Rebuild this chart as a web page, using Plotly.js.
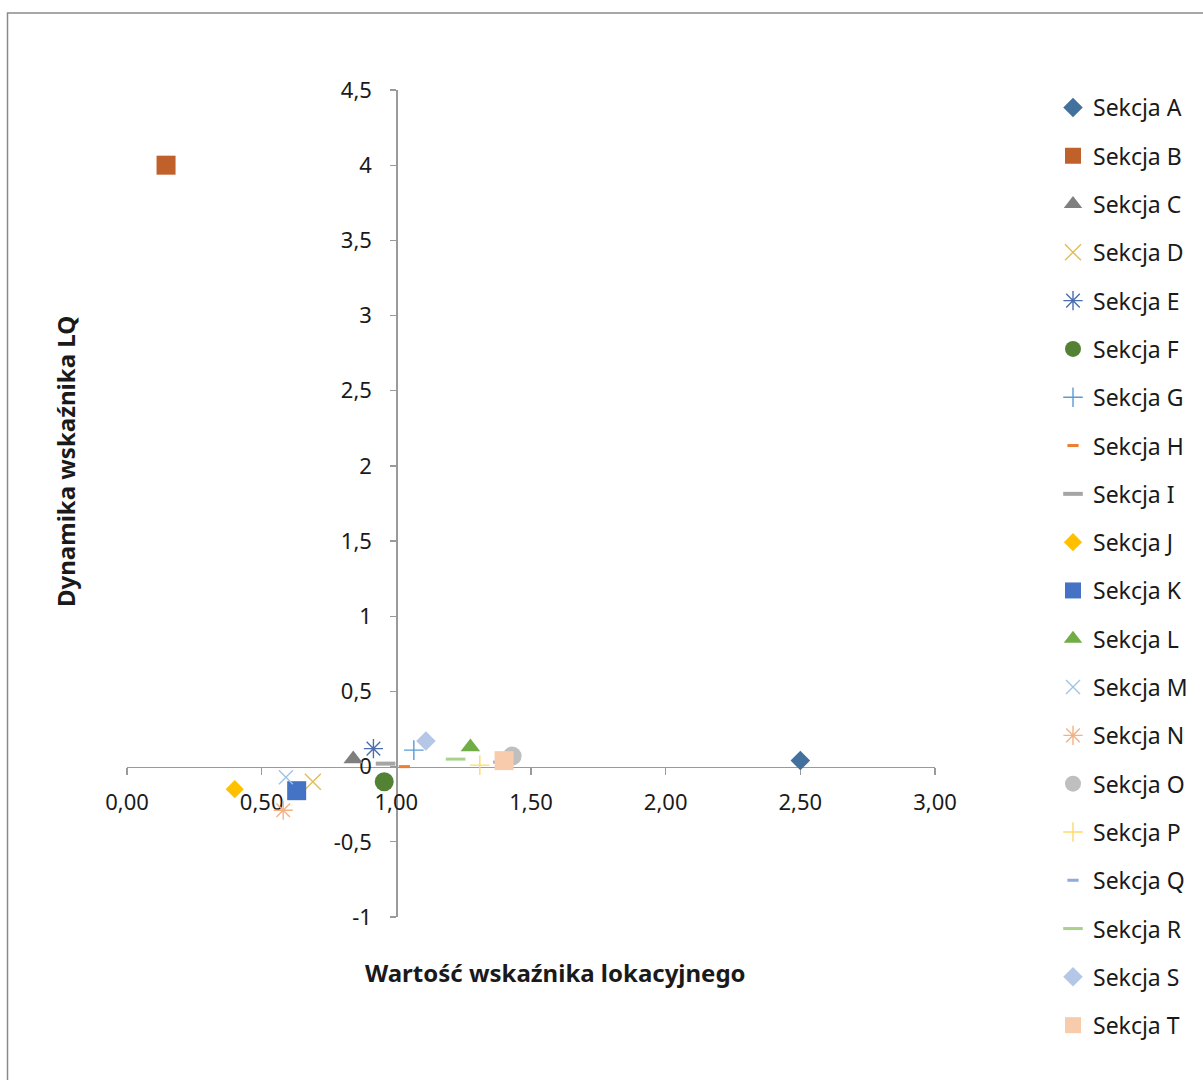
<!DOCTYPE html>
<html>
<head>
<meta charset="utf-8">
<script src="https://cdn.plot.ly/plotly-3.0.1.min.js"></script>
<style>
html,body{margin:0;padding:0;background:#fff;}
#chart{width:1203px;height:1080px;}
</style>
</head>
<body>
<div id="chart"></div>
<script>
// ---- data ----
const sections = ['Sekcja A','Sekcja B','Sekcja C','Sekcja D','Sekcja E','Sekcja F','Sekcja G','Sekcja H','Sekcja I','Sekcja J',
                  'Sekcja K','Sekcja L','Sekcja M','Sekcja N','Sekcja O','Sekcja P','Sekcja Q','Sekcja R','Sekcja S','Sekcja T'];
const lqValues  = [2.50, 0.145, 0.84, 0.69, 0.915, 0.955, 1.065, 1.03, 0.96, 0.40,
                   0.63, 1.275, 0.59, 0.58, 1.43, 1.31, 1.38, 1.22, 1.11, 1.40];
const dynValues = [0.04, 4.00, 0.05, -0.10, 0.12, -0.10, 0.11, 0.00, 0.02, -0.15,
                   -0.16, 0.13, -0.07, -0.29, 0.07, 0.01, 0.03, 0.05, 0.17, 0.04];
const xTickVals = [0, 0.5, 1, 1.5, 2, 2.5, 3];
const xTickText = ['0,00','0,50','1,00','1,50','2,00','2,50','3,00'];
const yTickVals = [-1, -0.5, 0, 0.5, 1, 1.5, 2, 2.5, 3, 3.5, 4, 4.5];
const yTickText = ['-1','-0,5','0','0,5','1','1,5','2','2,5','3','3,5','4','4,5'];

// ---- styles ----
const styles = [
  {s:'diamond',   c:'#41719C', size:15},
  {s:'square',    c:'#C0602A', size:19},
  {s:'triangle-up', c:'#7F7F7F', size:17},
  {s:'x-thin-open', c:'#E0BC5A', size:16, lw:1.4},
  {s:'asterisk-open', c:'#4A6DB0', size:16, lw:1.4},
  {s:'circle',    c:'#548235', size:19},
  {s:'cross-thin-open', c:'#5B9BD5', size:14, lw:1.4},
  {s:'line-ew-open', c:'#ED7D31', size:8, lw:3},
  {s:'line-ew-open', c:'#A5A5A5', size:14, lw:4},
  {s:'diamond',   c:'#FFC000', size:14},
  {s:'square',    c:'#4472C4', size:19},
  {s:'triangle-up', c:'#70AD47', size:17},
  {s:'x-thin-open', c:'#9DC3E6', size:14, lw:1.4},
  {s:'asterisk-open', c:'#F4B183', size:16, lw:1.4},
  {s:'circle',    c:'#BFBFBF', size:19},
  {s:'cross-thin-open', c:'#FFD966', size:14, lw:1.4},
  {s:'line-ew-open', c:'#8FAADC', size:8, lw:3},
  {s:'line-ew-open', c:'#A9D18E', size:14, lw:3},
  {s:'diamond',   c:'#B4C7E7', size:15},
  {s:'square',    c:'#F8CBAD', size:19}
];

const FONT = 'Noto Sans, Open Sans, sans-serif';

const traces = sections.map((name, i) => {
  const st = styles[i];
  const open = st.s.indexOf('open') >= 0;
  return {
    type: 'scatter', mode: 'markers', name: name,
    x: [lqValues[i]], y: [dynValues[i]],
    legendgroup: 'g' + i,
    cliponaxis: false,
    marker: {
      symbol: st.s, size: st.size,
      color: st.c,
      line: open ? {color: st.c, width: st.lw} : {width: 0}
    },
    hoverinfo: 'x+y+name'
  };
});

// plot area pixel geometry
const L = 127, R = 935, T = 90, B = 917, W = 1203, H = 1080;
const pw = R - L, ph = B - T;
const px = v => (v - L) / pw;
const py = v => (B - v) / ph;

const layout = {
  width: W, height: H,
  paper_bgcolor: '#fff', plot_bgcolor: '#fff',
  separators: ', ',
  margin: {l: L, r: W - R, t: T, b: H - B, pad: 0, autoexpand: false},
  font: {family: FONT, size: 22, color: '#1a1a1a'},
  showlegend: true,
  xaxis: {
    range: [0, 3], domain: [0, 1],
    anchor: 'free', position: 1 / 5.5,
    tickvals: xTickVals, ticktext: xTickText,
    ticks: 'outside', ticklen: 7, tickwidth: 1.3, tickcolor: '#9a9a9a',
    showline: true, linecolor: '#9a9a9a', linewidth: 1.3,
    showgrid: false, zeroline: false,
    layer: 'below traces',
    ticklabelstandoff: 9,
    tickfont: {family: FONT, size: 22, color: '#1a1a1a'}
  },
  yaxis: {
    range: [-1, 4.5], domain: [0, 1],
    anchor: 'free', position: 1 / 3,
    tickvals: yTickVals, ticktext: yTickText,
    ticks: 'outside', ticklen: 6, tickwidth: 1.3, tickcolor: '#9a9a9a',
    showline: true, linecolor: '#9a9a9a', linewidth: 1.3,
    showgrid: false, zeroline: false,
    layer: 'below traces',
    ticklabelstandoff: 14,
    tickfont: {family: FONT, size: 22, color: '#1a1a1a'}
  },
  legend: {
    x: px(1053), xanchor: 'left',
    y: py(86), yanchor: 'top',
    tracegroupgap: 15.4,
    maxheight: 1060,
    font: {family: FONT, size: 23, color: '#1a1a1a'},
    bgcolor: 'rgba(0,0,0,0)', borderwidth: 0,
    itemclick: false
  },
  annotations: [
    {text: 'Wartość wskaźnika lokacyjnego', xref: 'paper', yref: 'paper',
     x: px(555), y: py(972), xanchor: 'center', yanchor: 'middle', showarrow: false,
     font: {family: FONT, size: 24, color: '#1a1a1a', weight: 700}},
    {text: 'Dynamika wskaźnika LQ', xref: 'paper', yref: 'paper',
     x: px(65), y: py(462), xanchor: 'center', yanchor: 'middle', showarrow: false,
     textangle: -90,
     font: {family: FONT, size: 24, color: '#1a1a1a', weight: 700}}
  ],
  shapes: [
    {type: 'rect', xref: 'paper', yref: 'paper', layer: 'below',
     x0: px(7.5), x1: px(1260), y0: py(1120), y1: py(13),
     line: {color: '#8a8a8a', width: 1.5}, fillcolor: 'rgba(0,0,0,0)'}
  ]
};

Plotly.newPlot('chart', traces, layout, {displayModeBar: false, staticPlot: true});
</script>
</body>
</html>
